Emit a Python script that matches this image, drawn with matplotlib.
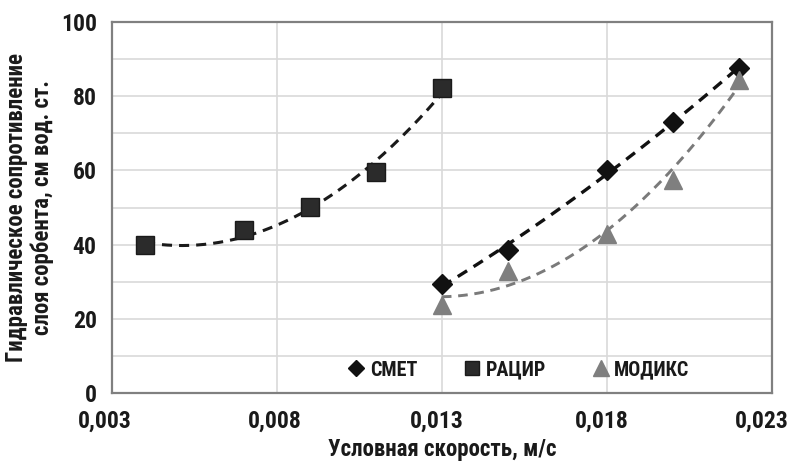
import numpy as np
import matplotlib
matplotlib.use("Agg")
import matplotlib.pyplot as plt
import matplotlib.transforms as mtransforms

plt.rcParams['font.family'] = ['Roboto Condensed', 'Liberation Sans', 'DejaVu Sans']
plt.rcParams['font.weight'] = 'bold'

smet_x = [0.013, 0.015, 0.018, 0.020, 0.022]
smet_y = [29.5, 38.5, 60.0, 73.0, 87.5]
racir_x = [0.004, 0.007, 0.009, 0.011, 0.013]
racir_y = [39.8, 44.0, 50.2, 59.5, 82.3]
modiks_x = [0.013, 0.015, 0.018, 0.020, 0.022]
modiks_y = [23.8, 33.0, 43.0, 57.5, 84.5]
x_ticks = [0.003, 0.008, 0.013, 0.018, 0.023]
x_tick_labels = ['0,003', '0,008', '0,013', '0,018', '0,023']
y_ticks = [0, 20, 40, 60, 80, 100]

fig = plt.figure(figsize=(7.9, 4.61), dpi=100)
ax = fig.add_axes([0.1418, 0.1475, 0.835, 0.8045])

ax.set_xlim(0.003, 0.023)
ax.set_ylim(0, 100)
ax.set_xticks(x_ticks)
ax.set_xticklabels(x_tick_labels)
ax.set_yticks(y_ticks)
ax.set_yticks(np.arange(0, 101, 10), minor=True)
ax.grid(True, which='both', axis='y', color='#d9d9d9', lw=1.2)
ax.grid(True, which='major', axis='x', color='#d9d9d9', lw=1.2)
ax.tick_params(which='both', length=0, labelsize=17)
ax.tick_params(axis='x', pad=12)
ax.tick_params(axis='y', pad=11)
for lab in ax.get_xticklabels() + ax.get_yticklabels():
    lab.set_fontweight('bold')
    lab.set_color('#1a1a1a')
shifts = [-7, -2, -5, -5, -10]
for lab, dx in zip(ax.get_xticklabels(), shifts):
    lab.set_transform(lab.get_transform() + mtransforms.ScaledTranslation(dx / 100, 0, fig.dpi_scale_trans))
ax.set_axisbelow(True)
for s in ax.spines.values():
    s.set_color('#808080')
    s.set_linewidth(1.6)

def trend(xs, ys, deg, color, lw):
    c = np.polyfit(xs, ys, deg)
    xx = np.linspace(min(xs), max(xs), 200)
    ax.plot(xx, np.polyval(c, xx), ls=(0, (3.3, 2.3)), color=color, lw=lw, zorder=2)

trend(racir_x, racir_y, 2, '#1a1a1a', 2.2)
trend(smet_x, smet_y, 2, '#111111', 2.4)
trend(modiks_x, modiks_y, 2, '#7a7a7a', 2.1)

ax.plot(smet_x, smet_y, 'D', ms=10, color='#111111', label='СМЕТ', zorder=3, ls='none')
ax.plot(racir_x, racir_y, 's', ms=12.5, color='#2b2b2b', mec='#1a1a1a', label='РАЦИР', zorder=3, ls='none')
ax.plot(modiks_x, modiks_y, '^', ms=13, color='#7f7f7f', label='МОДИКС', zorder=3, ls='none')

leg = ax.legend(loc='center', bbox_to_anchor=(0.617, 0.062), ncol=3, frameon=False,
                prop={'weight': 'bold', 'size': 14.5}, handletextpad=0.3,
                handlelength=0.75, columnspacing=2.35, markerscale=0.85, borderpad=0)
for t in leg.get_texts():
    t.set_color('#1a1a1a')

ax.set_xlabel('Условная скорость, м/с', fontsize=16.5, fontweight='bold', labelpad=4, color='#1a1a1a')
ax.set_ylabel('Гидравлическое сопротивление\nслоя сорбента, см вод. ст.', fontsize=16.5,
              fontweight='bold', labelpad=5, linespacing=1.15, color='#1a1a1a')

fig.savefig('out.png', dpi=100)
